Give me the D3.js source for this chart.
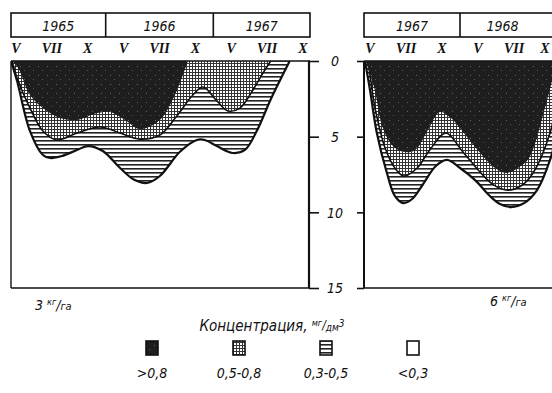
<!DOCTYPE html>
<html>
<head>
<meta charset="utf-8">
<script src="https://cdn.jsdelivr.net/npm/d3@7"></script>
<style>
  body { margin: 0; background: #fff; }
  text { font-family: "DejaVu Sans Condensed", "Liberation Sans Narrow", "DejaVu Sans", sans-serif; font-style: italic; fill: #111; }
  .month { font-family: "Liberation Serif", "DejaVu Serif", serif; font-weight: bold; }
</style>
</head>
<body>
<div class="chart"></div>
<script>
// season axis: integer positions are the month marks V, VII, X of each year
const seasonMarks = ["V", "VII", "X"];
const leftYears = [1965, 1966, 1967];
const rightYears = [1967, 1968];
const depthTicks = [0, 5, 10, 15];

// depth of the lower edge of each concentration zone, [season position, depth]
// 3 kg/ha
const leftDark = [[-0.11, 0], [0.06, 0.46], [0.39, 2.25], [0.75, 3.11], [1.23, 3.77], [1.7, 3.9], [2.26, 3.44],
  [2.62, 3.37], [3.04, 3.9], [3.45, 4.5], [4.01, 3.9], [4.43, 2.25], [4.79, 0]];
const leftGrid = [[-0.11, 0], [0.03, 1.12], [0.39, 3.11], [0.75, 4.63], [1.14, 5.22], [1.7, 4.76], [2.34, 4.36],
  [2.9, 4.76], [3.45, 5.16], [4.01, 4.89], [4.46, 3.7], [4.93, 2.25], [5.21, 1.72], [5.6, 2.64], [5.91, 3.3],
  [6.24, 3.11], [6.57, 2.05], [6.85, 0.93], [7.1, 0]];
const leftHatch = [[-0.14, 0], [0.03, 1.32], [0.39, 4.63], [0.75, 6.21], [0.95, 6.41], [1.28, 6.28], [1.7, 5.88],
  [2.01, 5.62], [2.42, 5.95], [2.9, 7.07], [3.31, 7.87], [3.65, 8.06], [4.01, 7.6], [4.57, 6.0], [5.04, 5.22],
  [5.26, 5.22], [5.6, 5.62], [6.04, 6.08], [6.38, 5.88], [6.71, 4.63], [7.08, 2.64], [7.35, 1.32], [7.63, 0]];
// 6 kg/ha
const rightDark = [[-0.11, 0], [-0.03, 0.6], [0.14, 1.98], [0.33, 4.23], [0.61, 5.55], [0.92, 6.0], [1.25, 5.9],
  [1.61, 4.56], [1.94, 3.37], [2.25, 3.77], [2.56, 4.63], [3.11, 6.21], [3.47, 7.07], [3.78, 7.4], [4.11, 7.07],
  [4.42, 6.41], [4.86, 3.11], [5.06, 1.26], [5.17, 0]];
const rightGrid = [[-0.11, 0], [-0.06, 0.2], [0.14, 3.11], [0.42, 5.75], [0.69, 7.07], [0.94, 7.6], [1.31, 7.07],
  [1.64, 5.95], [2.11, 4.76], [2.56, 5.95], [3.03, 7.27], [3.44, 8.2], [3.83, 8.53], [4.19, 8.26], [4.53, 7.4],
  [5.0, 4.76], [5.22, 2.25], [5.36, 0]];
const rightHatch = [[-0.14, 0], [0, 1.92], [0.19, 4.76], [0.47, 7.4], [0.69, 8.92], [0.92, 9.39], [1.17, 9.12],
  [1.44, 8.26], [1.83, 6.94], [2.14, 6.54], [2.5, 7.07], [2.92, 7.87], [3.33, 8.92], [3.61, 9.45], [3.92, 9.65],
  [4.28, 9.39], [4.64, 8.53], [5.0, 6.54], [5.28, 3.9], [5.5, 0]];

const legendLabels = [">0,8", "0,5-0,8", "0,3-0,5", "<0,3"];
const legendFills = ["url(#dark)", "url(#grid)", "url(#hatch)", "#fff"];

const W = 552, H = 393;
const plotTop = 61, plotBottom = 288;

const svg = d3.select(".chart").append("svg").attr("width", W).attr("height", H);

const defs = svg.append("defs");
const pd = defs.append("pattern").attr("id", "dark").attr("patternUnits", "userSpaceOnUse")
  .attr("width", 9).attr("height", 9);
pd.append("rect").attr("width", 9).attr("height", 9).attr("fill", "#1e1e1e");
pd.append("rect").attr("x", 2).attr("y", 3).attr("width", 1).attr("height", 1).attr("fill", "#666");
pd.append("rect").attr("x", 6).attr("y", 7).attr("width", 1).attr("height", 1).attr("fill", "#555");
const pg = defs.append("pattern").attr("id", "grid").attr("patternUnits", "userSpaceOnUse")
  .attr("width", 3).attr("height", 3);
pg.append("rect").attr("width", 3).attr("height", 3).attr("fill", "#fff");
pg.append("rect").attr("width", 3).attr("height", 1).attr("fill", "#333");
pg.append("rect").attr("width", 1).attr("height", 3).attr("fill", "#333");
const ph = defs.append("pattern").attr("id", "hatch").attr("patternUnits", "userSpaceOnUse")
  .attr("width", 4).attr("height", 4);
ph.append("rect").attr("width", 4).attr("height", 4).attr("fill", "#fff");
ph.append("rect").attr("width", 4).attr("height", 1.6).attr("fill", "#222");

const y = d3.scaleLinear().domain([0, 15]).range([plotTop, plotBottom]);

const panels = [
  { id: "l", years: leftYears, dark: leftDark, grid: leftGrid, hatch: leftHatch, rate: "3", left: 11, right: 310,
    x: d3.scaleLinear().domain([0, 8]).range([16, 303]), labelX: 35 },
  { id: "r", years: rightYears, dark: rightDark, grid: rightGrid, hatch: rightHatch, rate: "6", left: 364, right: 570,
    x: d3.scaleLinear().domain([0, 5]).range([370, 550]), labelX: 490 }
];

panels.forEach(p => {
  const x = p.x;
  defs.append("clipPath").attr("id", "clip-" + p.id).append("rect")
    .attr("x", p.left).attr("y", plotTop).attr("width", p.right - p.left).attr("height", plotBottom - plotTop);

  const area = d3.area().curve(d3.curveCatmullRom.alpha(0.5))
    .x(d => x(d[0])).y0(y(0)).y1(d => y(d[1]));
  const line = d3.line().curve(d3.curveCatmullRom.alpha(0.5))
    .x(d => x(d[0])).y(d => y(d[1]));

  const g = svg.append("g").attr("clip-path", "url(#clip-" + p.id + ")");
  g.append("path").datum(p.hatch).attr("d", area).attr("fill", "url(#hatch)");
  g.append("path").datum(p.grid).attr("d", area).attr("fill", "url(#grid)");
  g.append("path").datum(p.hatch).attr("d", line).attr("fill", "none").attr("stroke", "#111").attr("stroke-width", 2.2);
  g.append("path").datum(p.grid).attr("d", line).attr("fill", "none").attr("stroke", "#111").attr("stroke-width", 1.6);
  g.append("path").datum(p.dark).attr("d", area).attr("fill", "url(#dark)");

  // year box
  const boxTop = 13, boxBot = 37;
  svg.append("rect").attr("x", p.left).attr("y", boxTop).attr("width", p.right - p.left).attr("height", boxBot - boxTop)
    .attr("fill", "none").attr("stroke", "#111").attr("stroke-width", 1.6);
  const edges = [p.left].concat(p.years.slice(1).map((d, i) => x(i * 3 + 2.5)), [Math.min(p.right, 545)]);
  svg.selectAll(null).data(p.years.slice(1)).join("line")
    .attr("x1", (d, i) => edges[i + 1]).attr("x2", (d, i) => edges[i + 1])
    .attr("y1", boxTop).attr("y2", boxBot).attr("stroke", "#111").attr("stroke-width", 1.6);
  svg.selectAll(null).data(p.years).join("text")
    .attr("x", (d, i) => (edges[i] + edges[i + 1]) / 2)
    .attr("y", 31).attr("text-anchor", "middle").attr("font-size", 14).text(d => d);

  // month marks
  const marks = p.years.flatMap((yr, i) => seasonMarks.map((m, j) => ({ m, t: i * 3 + j })));
  svg.selectAll(null).data(marks).join("text").attr("class", "month")
    .attr("x", d => Math.min(x(d.t), W - 7)).attr("y", 53).attr("text-anchor", "middle")
    .attr("font-size", 14).text(d => d.m);

  // panel frame
  svg.append("line").attr("x1", p.left).attr("x2", p.right).attr("y1", plotTop).attr("y2", plotTop)
    .attr("stroke", "#111").attr("stroke-width", 1.6);
  svg.append("line").attr("x1", p.left).attr("x2", p.right).attr("y1", plotBottom).attr("y2", plotBottom)
    .attr("stroke", "#111").attr("stroke-width", 1.6);
  svg.append("line").attr("x1", p.left).attr("x2", p.left).attr("y1", plotTop).attr("y2", plotBottom)
    .attr("stroke", "#111").attr("stroke-width", p.id === "l" ? 1.4 : 2);

  // rate label
  const rl = svg.append("text").attr("x", p.labelX).attr("y", p.id === "l" ? 310 : 306).attr("font-size", 14);
  rl.append("tspan").text(p.rate + " ");
  rl.append("tspan").attr("font-size", 9).attr("dy", -5).text("кг");
  rl.append("tspan").attr("dy", 5).text("/");
  rl.append("tspan").attr("font-size", 11).text("га");
});

// depth axis between panels
svg.append("line").attr("x1", 309).attr("x2", 309).attr("y1", plotTop).attr("y2", plotBottom)
  .attr("stroke", "#111").attr("stroke-width", 2.2);
svg.append("g").attr("transform", "translate(309,0)")
  .call(d3.axisRight(y).tickValues(depthTicks).tickSize(10).tickFormat(""))
  .call(g => g.select(".domain").remove())
  .call(g => g.selectAll("line").attr("stroke", "#111").attr("stroke-width", 1.6));
svg.append("g").attr("transform", "translate(364,0)")
  .call(d3.axisLeft(y).tickValues(depthTicks).tickSize(7))
  .call(g => g.select(".domain").remove())
  .call(g => g.selectAll("line").attr("stroke", "#111").attr("stroke-width", 1.6))
  .call(g => g.selectAll("text").attr("x", -29).attr("dy", "0.35em").attr("text-anchor", "middle")
    .attr("font-size", 14).attr("font-family", null).style("font-style", "italic").attr("fill", "#111"));

// legend title
const lt = svg.append("text").attr("x", 272).attr("y", 331).attr("text-anchor", "middle").attr("font-size", 15);
lt.append("tspan").text("Концентрация, ");
lt.append("tspan").attr("font-size", 9).attr("dy", -5).text("мг");
lt.append("tspan").attr("font-size", 12).attr("dy", 3).text("/");
lt.append("tspan").attr("font-size", 10).attr("dy", 2).text("дм");
lt.append("tspan").attr("font-size", 10).attr("dy", -4).text("3");

const lx = d3.scalePoint().domain(legendLabels).range([152, 413]);
const lg = svg.selectAll(null).data(legendLabels).join("g").attr("transform", d => `translate(${lx(d)},0)`);
lg.append("rect").attr("x", -6).attr("y", 341).attr("width", 12).attr("height", 14)
  .attr("fill", (d, i) => legendFills[i]).attr("stroke", "#111").attr("stroke-width", 1.6);
lg.append("text").attr("y", 378).attr("text-anchor", "middle").attr("font-size", 14).text(d => d);
</script>
</body>
</html>
